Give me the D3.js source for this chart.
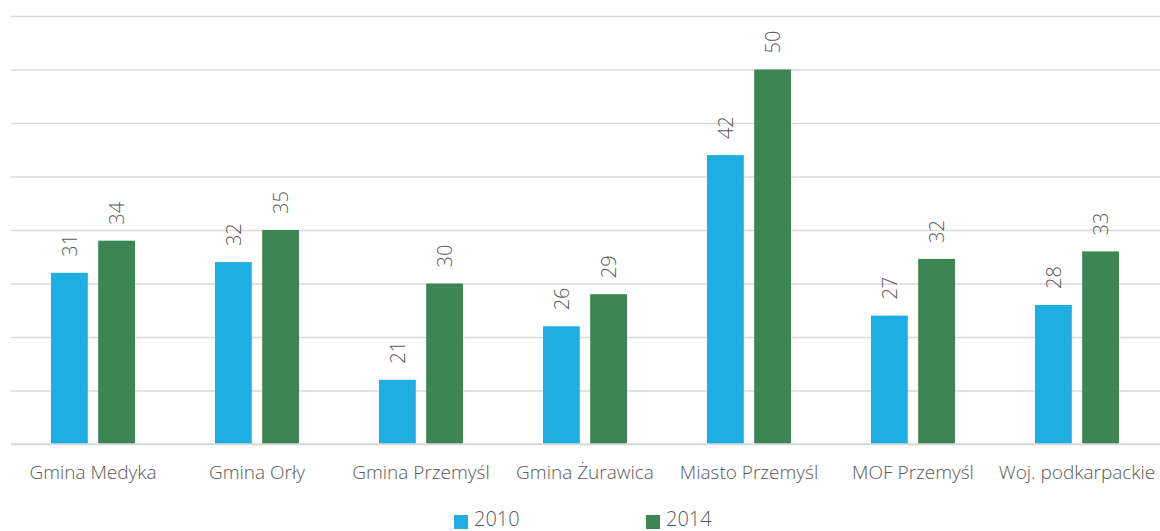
<!DOCTYPE html>
<html>
<head>
<meta charset="utf-8">
<script src="https://d3js.org/d3.v7.min.js"></script>
<style>
  body { margin: 0; background: #fff; }
  svg text { font-family: "Open Sans", "Noto Sans", sans-serif; fill: #595959; font-weight: 300; }
</style>
</head>
<body>
<div id="vis"></div>
<script>
// Data
const CATEGORIES = ["Gmina Medyka", "Gmina Orły", "Gmina Przemyśl", "Gmina Żurawica",
                    "Miasto Przemyśl", "MOF Przemyśl", "Woj. podkarpackie"];
const SERIES = ["2010", "2014"];
const VALUES_2010 = [31, 32, 21, 26, 42, 27, 28];
const VALUES_2014 = [34, 35, 30, 29, 50, 32.3, 33];
const Y_TICKS = [15, 20, 25, 30, 35, 40, 45, 50, 55];
const COLORS = ["#1eaee3", "#3c8654"];

// Frame and margins
const FRAME_WIDTH = 1160;
const FRAME_HEIGHT = 531;
const MARGINS = {left: 11, right: 1, top: 16, bottom: 87};
const VIS_WIDTH = FRAME_WIDTH - MARGINS.left - MARGINS.right;
const VIS_HEIGHT = FRAME_HEIGHT - MARGINS.top - MARGINS.bottom;

const FRAME = d3.select("#vis")
  .append("svg")
    .attr("width", FRAME_WIDTH)
    .attr("height", FRAME_HEIGHT);

const data = CATEGORIES.map((c, i) => ({cat: c, vals: [VALUES_2010[i], VALUES_2014[i]]}));

// Scales
const X_SCALE = d3.scaleBand()
  .domain(CATEGORIES)
  .range([0, VIS_WIDTH]);

const X_INNER = d3.scaleBand()
  .domain(SERIES)
  .range([X_SCALE.bandwidth() / 2 - 42, X_SCALE.bandwidth() / 2 + 42])
  .paddingInner(0.22);

const Y_SCALE = d3.scaleLinear()
  .domain([15, 55])
  .range([VIS_HEIGHT, 0]);

const color = d3.scaleOrdinal().domain(SERIES).range(COLORS);

const G = FRAME.append("g")
  .attr("transform", "translate(" + MARGINS.left + "," + MARGINS.top + ")");

// Gridlines
G.append("g")
  .call(d3.axisLeft(Y_SCALE).tickValues(Y_TICKS).tickSize(-VIS_WIDTH - 20).tickFormat(""))
  .call(g => g.select(".domain").remove())
  .call(g => g.selectAll("line").attr("stroke", "#d9d9d9").attr("stroke-width", 1.5));

// Bars
const groups = G.selectAll(".cat")
  .data(data)
  .enter()
  .append("g")
    .attr("class", "cat")
    .attr("transform", (d) => "translate(" + X_SCALE(d.cat) + ",0)");

groups.selectAll("rect")
  .data((d) => d.vals.map((v, i) => ({key: SERIES[i], v: v})))
  .enter()
  .append("rect")
    .attr("x", (d) => X_INNER(d.key))
    .attr("y", (d) => Y_SCALE(d.v))
    .attr("width", X_INNER.bandwidth())
    .attr("height", (d) => VIS_HEIGHT - Y_SCALE(d.v))
    .attr("fill", (d) => color(d.key));

// Value labels, rotated
groups.selectAll(".lbl")
  .data((d) => d.vals.map((v, i) => ({key: SERIES[i], v: v})))
  .enter()
  .append("text")
    .attr("class", "lbl")
    .attr("transform", (d) => "translate(" + (X_INNER(d.key) + X_INNER.bandwidth() / 2) + "," +
                                (Y_SCALE(d.v) - 16) + ") rotate(-90)")
    .attr("dy", "0.36em")
    .style("font-size", "20px")
    .text((d) => d3.format(".0f")(d.v));

// Baseline
G.append("line")
  .attr("x1", 0).attr("x2", VIS_WIDTH + 20)
  .attr("y1", VIS_HEIGHT).attr("y2", VIS_HEIGHT)
  .attr("stroke", "#d9d9d9").attr("stroke-width", 1.5);

// Category labels
G.selectAll(".xlab")
  .data(CATEGORIES)
  .enter()
  .append("text")
    .attr("x", (d) => X_SCALE(d) + X_SCALE.bandwidth() / 2)
    .attr("y", VIS_HEIGHT + 35)
    .attr("text-anchor", "middle")
    .style("font-size", "19px")
    .text((d) => d);

// Legend
const LEGEND_X = [454, 646];
const legend = FRAME.selectAll(".leg")
  .data(SERIES)
  .enter()
  .append("g")
    .attr("transform", (d, i) => "translate(" + LEGEND_X[i] + ",515)");
legend.append("rect")
  .attr("width", 14).attr("height", 14)
  .attr("fill", (d) => color(d));
legend.append("text")
  .attr("x", 20).attr("y", 11)
  .style("font-size", "20px")
  .text((d) => d);
</script>
</body>
</html>
